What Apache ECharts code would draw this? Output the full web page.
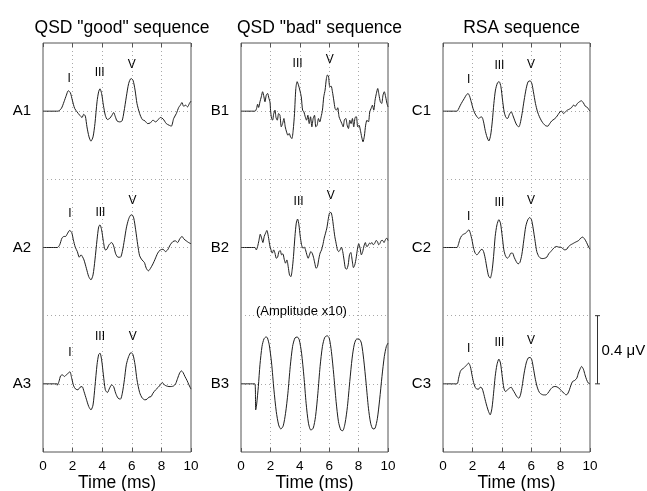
<!DOCTYPE html>
<html><head><meta charset="utf-8">
<script src="https://cdn.jsdelivr.net/npm/echarts@6/dist/echarts.min.js"></script>
<style>html,body{margin:0;padding:0;background:#fff}#c{width:647px;height:491px}</style>
</head><body><div id="c"></div>
<script>
// ---------- DATA (time in ms, amplitude in µV) ----------
const columnTitles = ['QSD "good" sequence', 'QSD "bad" sequence', 'RSA sequence'];
const rowNames = [['A1','A2','A3'], ['B1','B2','B3'], ['C1','C2','C3']];
const timeTicks = [0, 2, 4, 6, 8, 10];
const xAxisName = 'Time (ms)';

const A1 = [[0,0],[1.01,0],[1.24,0.016],[1.42,0.055],[1.58,0.094],[1.71,0.120],[1.85,0.108],[1.98,0.065],[2.14,0.016],[2.30,-0.004],[2.48,-0.024],[2.64,-0.037],[2.75,-0.018],[2.86,-0.029],[2.97,-0.092],[3.11,-0.151],[3.24,-0.176],[3.38,-0.151],[3.51,-0.073],[3.65,0.055],[3.76,0.114],[3.85,0.131],[3.96,0.104],[4.08,0.035],[4.21,-0.024],[4.35,-0.049],[4.50,-0.043],[4.66,-0.024],[4.77,-0.008],[4.89,-0.033],[5.00,-0.057],[5.18,-0.063],[5.34,-0.057],[5.47,-0.004],[5.63,0.084],[5.79,0.163],[5.95,0.192],[6.08,0.182],[6.22,0.124],[6.35,0.045],[6.53,-0.014],[6.71,-0.049],[6.89,-0.057],[7.07,-0.073],[7.25,-0.069],[7.43,-0.053],[7.61,-0.063],[7.79,-0.049],[7.93,-0.037],[8.11,-0.045],[8.33,-0.073],[8.51,-0.082],[8.67,-0.088],[8.83,-0.043],[9.01,-0.014],[9.17,0.022],[9.28,0.035],[9.39,0.051],[9.50,0.029],[9.64,0.035],[9.77,0.025],[9.89,0.045],[10.0,0.059]];
const A2 = [[0,0],[0.97,0],[1.13,0.016],[1.28,0.055],[1.42,0.065],[1.53,0.065],[1.64,0.080],[1.80,0.100],[1.94,0.088],[2.05,0.045],[2.18,0.002],[2.32,-0.024],[2.45,-0.057],[2.57,-0.043],[2.66,-0.053],[2.77,-0.073],[2.93,-0.122],[3.09,-0.171],[3.24,-0.190],[3.38,-0.161],[3.51,-0.073],[3.65,0.045],[3.76,0.120],[3.85,0.133],[3.96,0.104],[4.08,0.035],[4.21,-0.014],[4.32,-0.010],[4.46,0.016],[4.64,0.029],[4.77,0.010],[4.91,-0.037],[5.07,-0.057],[5.23,-0.057],[5.36,-0.024],[5.50,0.045],[5.63,0.114],[5.77,0.163],[5.90,0.188],[6.01,0.192],[6.13,0.173],[6.26,0.104],[6.40,0.016],[6.53,-0.049],[6.69,-0.073],[6.85,-0.088],[6.98,-0.122],[7.12,-0.137],[7.25,-0.124],[7.43,-0.096],[7.57,-0.069],[7.75,-0.033],[7.93,-0.014],[8.11,-0.010],[8.27,-0.024],[8.42,-0.014],[8.60,0.016],[8.78,0.035],[8.94,0.039],[9.10,0.029],[9.23,0.049],[9.39,0.065],[9.53,0.049],[9.68,0.039],[9.84,0.029],[10.0,0.022]];
const A3 = [[0,0],[0.96,0],[0.97,-0.008],[1.08,0.014],[1.19,0.047],[1.31,0.053],[1.44,0.043],[1.58,0.053],[1.71,0.063],[1.82,0.071],[1.94,0.033],[2.07,-0.012],[2.21,-0.031],[2.36,-0.035],[2.50,-0.020],[2.64,-0.016],[2.77,-0.045],[2.93,-0.090],[3.09,-0.133],[3.24,-0.153],[3.38,-0.124],[3.51,-0.016],[3.65,0.112],[3.76,0.171],[3.85,0.180],[3.96,0.141],[4.08,0.053],[4.21,-0.035],[4.35,-0.051],[4.50,-0.025],[4.64,-0.006],[4.77,-0.016],[4.91,-0.055],[5.07,-0.084],[5.23,-0.090],[5.36,-0.055],[5.50,0.024],[5.63,0.112],[5.79,0.161],[5.95,0.184],[6.08,0.171],[6.22,0.112],[6.35,0.024],[6.53,-0.051],[6.71,-0.084],[6.89,-0.094],[7.03,-0.090],[7.16,-0.078],[7.30,-0.075],[7.43,-0.055],[7.61,-0.035],[7.79,-0.020],[7.93,-0.006],[8.06,0.008],[8.20,-0.006],[8.33,-0.012],[8.51,-0.016],[8.67,-0.016],[8.83,-0.012],[8.96,0.000],[9.10,0.033],[9.23,0.063],[9.35,0.076],[9.46,0.067],[9.59,0.043],[9.73,0.020],[9.86,-0.006],[10.0,-0.031]];

const B1 = [[0,0],[0.95,0],[1.06,0.016],[1.13,0.041],[1.20,0.022],[1.29,0.055],[1.38,0.084],[1.47,0.114],[1.56,0.084],[1.63,0.055],[1.72,0.094],[1.81,0.104],[1.90,0.075],[1.97,0.055],[2.01,0.006],[2.08,-0.043],[2.15,-0.053],[2.22,-0.018],[2.31,0.006],[2.38,-0.037],[2.47,-0.053],[2.56,-0.014],[2.65,-0.024],[2.74,-0.092],[2.83,-0.073],[2.92,-0.043],[3.01,-0.092],[3.10,-0.122],[3.19,-0.141],[3.28,-0.131],[3.37,-0.151],[3.46,-0.161],[3.55,-0.112],[3.64,-0.014],[3.73,0.133],[3.82,0.173],[3.91,0.153],[4.00,0.124],[4.10,0.084],[4.19,0.006],[4.28,-0.004],[4.37,-0.033],[4.46,-0.053],[4.55,-0.024],[4.64,-0.073],[4.73,-0.033],[4.82,-0.092],[4.91,-0.043],[5.00,-0.024],[5.09,-0.092],[5.18,-0.082],[5.27,-0.043],[5.36,-0.063],[5.45,-0.033],[5.54,0.006],[5.63,0.084],[5.72,0.124],[5.81,0.192],[5.88,0.212],[5.95,0.206],[6.04,0.143],[6.13,0.147],[6.22,0.114],[6.31,0.065],[6.40,0.016],[6.49,0.006],[6.58,0.020],[6.67,-0.033],[6.76,-0.053],[6.86,-0.073],[6.95,-0.092],[7.04,-0.049],[7.13,-0.043],[7.22,-0.082],[7.31,-0.102],[7.40,-0.053],[7.49,-0.073],[7.58,-0.043],[7.67,-0.092],[7.76,-0.037],[7.85,-0.033],[7.94,-0.092],[8.03,-0.082],[8.12,-0.112],[8.21,-0.151],[8.30,-0.180],[8.39,-0.147],[8.48,-0.082],[8.57,-0.053],[8.67,-0.063],[8.76,-0.004],[8.85,0.016],[8.94,0.035],[9.03,0.006],[9.12,0.065],[9.21,0.104],[9.30,0.133],[9.39,0.094],[9.48,0.055],[9.57,0.045],[9.66,0.094],[9.75,0.114],[9.84,0.084],[9.93,0.045],[10.0,0.025]];
const B2 = [[0,0],[0.95,0],[1.04,-0.014],[1.13,0.006],[1.22,0.041],[1.31,0.078],[1.40,0.055],[1.49,0.029],[1.58,0.065],[1.67,0.084],[1.76,0.100],[1.86,0.065],[1.95,0.016],[2.04,-0.014],[2.13,-0.033],[2.22,-0.014],[2.31,-0.033],[2.40,-0.063],[2.49,-0.057],[2.58,-0.024],[2.67,-0.018],[2.76,-0.043],[2.85,-0.037],[2.94,-0.069],[3.03,-0.092],[3.12,-0.073],[3.21,-0.112],[3.30,-0.161],[3.39,-0.171],[3.48,-0.131],[3.57,-0.053],[3.67,0.065],[3.76,0.143],[3.85,0.167],[3.94,0.133],[4.03,0.065],[4.12,0.016],[4.21,-0.004],[4.30,0.002],[4.39,-0.014],[4.48,-0.043],[4.57,-0.063],[4.66,-0.043],[4.75,-0.024],[4.84,-0.033],[4.93,-0.057],[5.02,-0.092],[5.11,-0.122],[5.20,-0.112],[5.29,-0.069],[5.38,-0.033],[5.48,-0.014],[5.57,0.016],[5.66,0.055],[5.75,0.084],[5.84,0.114],[5.93,0.163],[6.02,0.202],[6.11,0.206],[6.20,0.182],[6.29,0.124],[6.38,0.065],[6.47,0.025],[6.56,-0.014],[6.65,-0.024],[6.74,-0.014],[6.83,0.002],[6.92,-0.024],[7.01,-0.073],[7.10,-0.122],[7.19,-0.127],[7.29,-0.102],[7.38,-0.043],[7.47,-0.029],[7.56,-0.073],[7.65,-0.118],[7.74,-0.102],[7.83,-0.063],[7.92,-0.010],[8.01,0.022],[8.10,-0.004],[8.19,-0.043],[8.28,-0.024],[8.37,0.010],[8.46,0.029],[8.55,0.006],[8.64,0.010],[8.73,0.025],[8.82,0.022],[8.91,0.029],[9.00,0.016],[9.10,0.025],[9.19,0.041],[9.28,0.035],[9.37,0.016],[9.46,0.025],[9.55,0.041],[9.64,0.041],[9.73,0.029],[9.82,0.045],[9.91,0.055],[10.0,0.041]];
// B3 recorded values (shown at amplitude x10)
const B3 = [[0,0],[0.95,0],[1.00,-0.0153],[1.06,-0.0124],[1.18,-0.0016],[1.29,0.0112],[1.43,0.0220],[1.56,0.0263],[1.70,0.0275],[1.79,0.0271],[1.92,0.0229],[2.08,0.0122],[2.24,-0.0035],[2.40,-0.0163],[2.56,-0.0241],[2.71,-0.0265],[2.87,-0.0247],[3.03,-0.0173],[3.19,-0.0055],[3.35,0.0102],[3.51,0.0220],[3.67,0.0269],[3.82,0.0275],[3.96,0.0259],[4.12,0.0180],[4.28,0.0043],[4.43,-0.0114],[4.59,-0.0231],[4.75,-0.0271],[4.91,-0.0261],[5.07,-0.0192],[5.23,-0.0055],[5.38,0.0102],[5.54,0.0220],[5.70,0.0273],[5.86,0.0282],[6.00,0.0269],[6.15,0.0190],[6.31,0.0053],[6.47,-0.0104],[6.63,-0.0222],[6.79,-0.0271],[6.92,-0.0275],[7.08,-0.0231],[7.24,-0.0133],[7.40,0.0014],[7.56,0.0151],[7.71,0.0233],[7.87,0.0263],[8.03,0.0263],[8.19,0.0239],[8.35,0.0141],[8.51,0.0004],[8.67,-0.0143],[8.82,-0.0231],[8.98,-0.0265],[9.12,-0.0261],[9.28,-0.0202],[9.43,-0.0094],[9.59,0.0043],[9.75,0.0161],[9.89,0.0220],[10.0,0.0239]];
const B3gain = 10;

const C1 = [[0,0],[0.95,0],[1.04,0.010],[1.18,0.035],[1.31,0.055],[1.45,0.075],[1.58,0.094],[1.70,0.104],[1.81,0.088],[1.92,0.055],[2.04,0.016],[2.15,-0.010],[2.31,-0.033],[2.44,-0.043],[2.58,-0.033],[2.67,-0.037],[2.76,-0.063],[2.87,-0.112],[2.99,-0.151],[3.12,-0.175],[3.24,-0.141],[3.35,-0.063],[3.46,0.045],[3.57,0.124],[3.71,0.167],[3.82,0.173],[3.94,0.143],[4.05,0.065],[4.16,-0.004],[4.28,-0.037],[4.39,-0.043],[4.52,-0.018],[4.64,-0.004],[4.75,-0.024],[4.89,-0.057],[5.02,-0.082],[5.16,-0.092],[5.25,-0.073],[5.38,-0.014],[5.52,0.065],[5.66,0.133],[5.79,0.173],[5.93,0.178],[6.04,0.163],[6.15,0.114],[6.29,0.045],[6.43,-0.004],[6.56,-0.033],[6.70,-0.057],[6.83,-0.073],[6.99,-0.086],[7.13,-0.088],[7.26,-0.073],[7.40,-0.057],[7.56,-0.047],[7.69,-0.037],[7.83,-0.020],[7.96,-0.004],[8.08,0],[8.19,-0.014],[8.33,-0.004],[8.46,0.006],[8.60,0.012],[8.76,0.022],[8.87,0.035],[9.00,0.029],[9.14,0.045],[9.28,0.055],[9.41,0.061],[9.55,0.049],[9.68,0.029],[9.82,0.022],[9.91,0.010],[10.0,0]];
const C2 = [[0,0],[0.95,0],[1.04,0.016],[1.15,0.049],[1.27,0.069],[1.40,0.078],[1.54,0.084],[1.65,0.094],[1.76,0.104],[1.86,0.084],[1.97,0.045],[2.08,-0.004],[2.19,-0.033],[2.31,-0.043],[2.42,-0.033],[2.53,-0.018],[2.65,-0.010],[2.76,-0.024],[2.87,-0.063],[2.99,-0.122],[3.10,-0.167],[3.21,-0.180],[3.33,-0.141],[3.44,-0.053],[3.55,0.065],[3.67,0.133],[3.80,0.163],[3.91,0.143],[4.03,0.065],[4.14,-0.014],[4.25,-0.049],[4.37,-0.063],[4.50,-0.053],[4.62,-0.033],[4.73,-0.033],[4.84,-0.057],[4.98,-0.082],[5.11,-0.096],[5.23,-0.088],[5.36,-0.043],[5.50,0.045],[5.63,0.124],[5.77,0.163],[5.90,0.176],[6.02,0.163],[6.13,0.114],[6.27,0.035],[6.38,-0.024],[6.52,-0.053],[6.65,-0.063],[6.79,-0.065],[6.92,-0.063],[7.06,-0.057],[7.19,-0.037],[7.33,-0.024],[7.47,-0.010],[7.60,0.002],[7.74,0.006],[7.87,0.002],[8.01,0.002],[8.14,-0.006],[8.28,-0.014],[8.42,-0.010],[8.55,0.006],[8.69,0.016],[8.82,0.022],[8.96,0.029],[9.10,0.035],[9.23,0.041],[9.37,0.055],[9.50,0.061],[9.64,0.049],[9.77,0.029],[9.91,0.002],[10.0,-0.010]];
const C3 = [[0,0],[0.95,0],[1.06,0.033],[1.18,0.073],[1.29,0.086],[1.40,0.092],[1.52,0.102],[1.63,0.112],[1.74,0.122],[1.86,0.102],[1.97,0.053],[2.08,0.008],[2.19,-0.020],[2.31,-0.031],[2.42,-0.031],[2.53,-0.020],[2.65,-0.025],[2.76,-0.055],[2.87,-0.094],[2.99,-0.133],[3.10,-0.163],[3.21,-0.182],[3.33,-0.143],[3.44,-0.055],[3.55,0.043],[3.67,0.112],[3.80,0.145],[3.91,0.122],[4.03,0.043],[4.14,-0.025],[4.25,-0.045],[4.39,-0.035],[4.52,-0.025],[4.64,-0.020],[4.75,-0.035],[4.89,-0.055],[5.02,-0.075],[5.16,-0.084],[5.27,-0.065],[5.38,-0.016],[5.52,0.063],[5.66,0.122],[5.79,0.151],[5.93,0.155],[6.04,0.141],[6.15,0.092],[6.29,0.024],[6.43,-0.025],[6.56,-0.051],[6.70,-0.061],[6.83,-0.065],[6.99,-0.065],[7.13,-0.055],[7.29,-0.035],[7.42,-0.022],[7.56,-0.016],[7.69,-0.016],[7.83,-0.022],[7.96,-0.031],[8.10,-0.045],[8.24,-0.055],[8.37,-0.065],[8.48,-0.059],[8.60,-0.035],[8.71,-0.006],[8.82,0.014],[8.96,0.020],[9.10,0.033],[9.21,0.063],[9.32,0.086],[9.43,0.102],[9.55,0.086],[9.66,0.053],[9.77,0.024],[9.89,0.004],[10.0,0]];

// wave-peak labels: [column, row, text, time ms, height µV above that row's baseline]
const peakLabels = [
  [0,0,'I',1.76,0.188],[0,0,'III',3.83,0.225],[0,0,'V',5.99,0.275],
  [0,1,'I',1.82,0.196],[0,1,'III',3.88,0.202],[0,1,'V',6.04,0.275],
  [0,2,'I',1.82,0.184],[0,2,'III',3.85,0.275],[0,2,'V',6.06,0.275],
  [1,0,'III',3.85,0.276],[1,0,'V',6.04,0.304],
  [1,1,'III',3.92,0.270],[1,1,'V',6.11,0.304],
  [2,0,'I',1.74,0.182],[2,0,'III',3.84,0.265],[2,0,'V',5.99,0.275],
  [2,1,'I',1.74,0.182],[2,1,'III',3.84,0.261],[2,1,'V',5.99,0.275],
  [2,2,'I',1.74,0.204],[2,2,'III',3.84,0.239],[2,2,'V',5.99,0.255]
];
// note above the B3 trace: [column, row, text, time ms, height µV above baseline]
const amplitudeNote = [1, 2, '(Amplitude x10)', 4.11, 0.422];
const scaleBarValue = 0.4;   // µV
const scaleBarLabel = '0.4 \u03bcV';

// ---------- LAYOUT / STYLE ----------
const FONT = 'Liberation Sans, Arial, Helvetica, sans-serif';
const ROW_STEP = 0.8;                 // µV between row baselines
const rowOffset = [ROW_STEP, 0, -ROW_STEP];
const traces = [[A1, A2, A3], [B1, B2, B3], [C1, C2, C3]];
const gains = [[1,1,1],[1,1,B3gain],[1,1,1]];
const gridBoxes = [
  {left: 43, top: 43, width: 148, height: 409},
  {left: 241, top: 43, width: 147, height: 409},
  {left: 443, top: 43, width: 147, height: 409}
];
const LINE = '#1e1e1e', FRAME = '#555', DOT = '#a8a8a8';

const grid = gridBoxes.map(b => Object.assign({show: true, borderColor: FRAME, borderWidth: 1,
  backgroundColor: 'transparent', containLabel: false, outerBoundsMode: 'none'}, b));
const xAxis = [], yAxis = [], series = [];
const tMin = timeTicks[0], tMax = timeTicks[timeTicks.length - 1], tStep = timeTicks[1] - timeTicks[0];

function textRenderer(fontSize) {
  return (params, api) => {
    const p = api.coord([api.value(0), api.value(1)]);
    return {type: 'text', style: {text: api.value(2), x: p[0], y: p[1], align: 'center',
      verticalAlign: 'middle', fontSize, fontFamily: FONT, fill: '#000'}};
  };
}

for (let c = 0; c < 3; c++) {
  xAxis.push({
    gridIndex: c, type: 'value', min: tMin, max: tMax, interval: tStep, position: 'bottom',
    name: xAxisName, nameLocation: 'middle', nameGap: 22, nameMoveOverlap: false,
    nameTextStyle: {fontFamily: FONT, fontSize: 17.5, color: '#000'},
    axisLine: {show: false, onZero: false},
    axisTick: {show: true, inside: true, length: 4, lineStyle: {color: FRAME}},
    axisLabel: {fontFamily: FONT, fontSize: 13.5, color: '#000', margin: 7,
      formatter: v => timeTicks.includes(Math.round(v)) ? String(Math.round(v)) : ''},
    splitLine: {show: true, lineStyle: {color: DOT, type: [1, 3], width: 1}}
  });
  xAxis.push({
    gridIndex: c, type: 'value', min: tMin, max: tMax, interval: tStep, position: 'top',
    axisLine: {show: false, onZero: false}, axisLabel: {show: false},
    axisTick: {show: true, inside: true, length: 4, lineStyle: {color: FRAME}},
    splitLine: {show: false}
  });
  yAxis.push({
    gridIndex: c, type: 'value', min: -1.5 * ROW_STEP, max: 1.5 * ROW_STEP, interval: ROW_STEP / 2,
    axisLine: {show: false, onZero: false}, axisTick: {show: false},
    axisLabel: {fontFamily: FONT, fontSize: 15, color: '#000', margin: 12,
      formatter: v => {
        const k = Math.round(v / (ROW_STEP / 2));
        const idx = k === 2 ? 0 : k === 0 ? 1 : k === -2 ? 2 : -1;
        return idx >= 0 ? rowNames[c][idx] : '';
      }},
    splitLine: {show: true, lineStyle: {color: DOT, type: [1, 3], width: 1}}
  });
  for (let r = 0; r < 3; r++) {
    series.push({
      type: 'line', xAxisIndex: 2 * c, yAxisIndex: c, symbol: 'none', smooth: 0.25,
      lineStyle: {color: LINE, width: 1}, silent: true, animation: false,
      data: traces[c][r].map(p => [p[0], p[1] * gains[c][r] + rowOffset[r]])
    });
  }
  series.push({
    type: 'custom', xAxisIndex: 2 * c, yAxisIndex: c, silent: true, animation: false, clip: false,
    dimensions: ['t', 'y', {name: 'txt', type: 'ordinal'}],
    renderItem: textRenderer(12),
    data: peakLabels.filter(l => l[0] === c).map(l => [l[3], l[4] + rowOffset[l[1]], l[2]])
  });
}
series.push({
  type: 'custom', xAxisIndex: 2 * amplitudeNote[0], yAxisIndex: amplitudeNote[0], silent: true,
  animation: false, clip: false,
  dimensions: ['t', 'y', {name: 'txt', type: 'ordinal'}],
  renderItem: textRenderer(13),
  data: [[amplitudeNote[3], amplitudeNote[4] + rowOffset[amplitudeNote[1]], amplitudeNote[2]]]
});

series.push({
  type: 'custom', xAxisIndex: 4, yAxisIndex: 2, silent: true, animation: false, clip: false,
  data: [[tMax, rowOffset[2], rowOffset[2] + scaleBarValue]],
  renderItem: (params, api) => {
    const p0 = api.coord([api.value(0), api.value(1)]);
    const p1 = api.coord([api.value(0), api.value(2)]);
    const x = p0[0] + 7.5;
    const st = {stroke: '#333', lineWidth: 1};
    return {type: 'group', children: [
      {type: 'line', shape: {x1: x, y1: p0[1], x2: x, y2: p1[1]}, style: st},
      {type: 'line', shape: {x1: x - 2.5, y1: p0[1], x2: x + 2.5, y2: p0[1]}, style: st},
      {type: 'line', shape: {x1: x - 2.5, y1: p1[1], x2: x + 2.5, y2: p1[1]}, style: st},
      {type: 'text', style: {text: scaleBarLabel, x: x + 4, y: (p0[1] + p1[1]) / 2 + 1,
        align: 'left', verticalAlign: 'middle', fontSize: 15, fontFamily: FONT, fill: '#000'}}
    ]};
  }
});

const title = gridBoxes.map((b, i) => ({
  text: columnTitles[i], left: b.left + b.width / 2, top: 14, textAlign: 'center',
  textStyle: {fontFamily: FONT, fontSize: 17.5, fontWeight: 'normal', color: '#000'}
}));

const chart = echarts.init(document.getElementById('c'), null, {renderer: 'canvas'});
chart.setOption({animation: false, backgroundColor: '#fff', title, grid, xAxis, yAxis, series});
</script>
</body></html>
